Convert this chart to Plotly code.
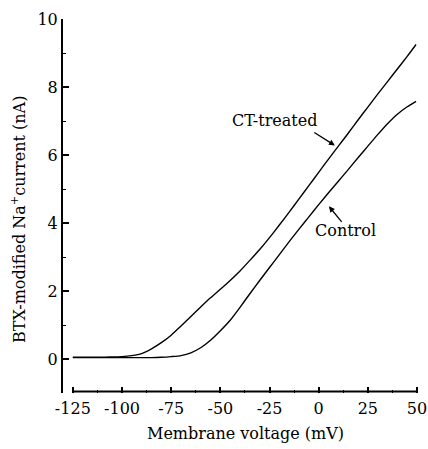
import plotly.graph_objects as go

# Membrane voltage (mV)
voltage_ct = [-125, -120, -115, -110, -105, -100, -95, -90, -85, -80, -75, -70, -65, -60,
              -55, -50, -45, -40, -35, -30, -25, -20, -15, -10, -5, 0, 5, 10, 15, 20,
              25, 30, 35, 40, 45, 49.5]
current_ct = [0.05, 0.05, 0.05, 0.05, 0.06, 0.07, 0.10, 0.16, 0.30, 0.48, 0.70, 0.97, 1.25, 1.53,
              1.80, 2.05, 2.31, 2.59, 2.90, 3.22, 3.57, 3.94, 4.32, 4.71, 5.10, 5.49, 5.88, 6.26,
              6.64, 7.03, 7.41, 7.79, 8.16, 8.53, 8.90, 9.25]

voltage_ctrl = [-125, -110, -100, -90, -85, -80, -75, -70, -65, -60, -55, -50, -45, -40, -35,
                -30, -25, -20, -15, -10, -5, 0, 5, 10, 15, 20, 25, 30, 35, 40, 45, 49.5]
current_ctrl = [0.04, 0.04, 0.04, 0.04, 0.04, 0.05, 0.07, 0.10, 0.18, 0.33, 0.55, 0.83, 1.14, 1.52,
                1.92, 2.31, 2.69, 3.07, 3.45, 3.82, 4.18, 4.54, 4.89, 5.23, 5.57, 5.92, 6.26,
                6.60, 6.92, 7.20, 7.42, 7.58]

x_ticks = [-125, -100, -75, -50, -25, 0, 25, 50]
y_ticks = [0, 2, 4, 6, 8, 10]

FONT = "DejaVu Serif"
FS = 16
line_style = dict(color="black", width=1.4)

fig = go.Figure()
fig.add_trace(go.Scatter(x=voltage_ct, y=current_ct, mode="lines", line=line_style,
                         line_shape="spline", line_smoothing=0.6,
                         name="CT-treated", hoverinfo="skip"))
fig.add_trace(go.Scatter(x=voltage_ctrl, y=current_ctrl, mode="lines", line=line_style,
                         line_shape="spline", line_smoothing=0.6,
                         name="Control", hoverinfo="skip"))

# detached x-axis line spanning first to last tick
fig.add_shape(type="line", xref="x", yref="paper", x0=x_ticks[0], x1=x_ticks[-1],
              y0=0.004, y1=0.004, line=dict(color="black", width=2))

# labels with arrows
fig.add_annotation(x=-22.3, y=7.01, text="CT-treated", showarrow=False,
                   font=dict(family=FONT, size=FS, color="black"))
fig.add_annotation(x=8.2, y=6.28, text="", showarrow=True, ax=-22, ay=-14,
                   arrowhead=2, arrowsize=0.9, arrowwidth=1.3, arrowcolor="black")
fig.add_annotation(x=13.5, y=3.78, text="Control", showarrow=False,
                   font=dict(family=FONT, size=FS, color="black"))
fig.add_annotation(x=5.2, y=4.49, text="", showarrow=True, ax=14, ay=17,
                   arrowhead=2, arrowsize=0.9, arrowwidth=1.3, arrowcolor="black")

# axis titles
fig.add_annotation(xref="paper", yref="paper", x=-0.1235, y=0.4626,
                   text="BTX-modified Na<sup>+</sup>current (nA)", textangle=-90,
                   showarrow=False, xanchor="center", yanchor="middle",
                   font=dict(family=FONT, size=FS, color="black"))
fig.add_annotation(xref="paper", yref="paper", x=0.5135, y=-0.107,
                   text="Membrane voltage (mV)", showarrow=False,
                   xanchor="center", yanchor="middle",
                   font=dict(family=FONT, size=FS, color="black"))

fig.update_xaxes(range=[-130, 51], tickvals=x_ticks, ticktext=[str(v) for v in x_ticks],
                 ticks="inside", ticklen=6, tickwidth=1.5, tickcolor="black",
                 ticklabelstandoff=4,
                 minor=dict(ticks="inside", ticklen=3, tickwidth=1.2, tickcolor="black",
                            tickvals=[v + 12.5 for v in x_ticks[:-1]]),
                 showline=False, showgrid=False, zeroline=False, automargin=False,
                 tickfont=dict(family=FONT, size=FS, color="black"))
fig.update_yaxes(range=[-1, 10], tickvals=y_ticks,
                 ticks="inside", ticklen=6, tickwidth=1.5, tickcolor="black",
                 minor=dict(ticks="inside", ticklen=3, tickwidth=1.2, tickcolor="black",
                            tickvals=[v + 1 for v in y_ticks[:-1]] + [-1]),
                 showline=True, linecolor="black", linewidth=2,
                 showgrid=False, zeroline=False, automargin=False,
                 tickfont=dict(family=FONT, size=FS, color="black"))

fig.update_layout(width=428, height=449, margin=dict(l=63, r=9, t=19, b=56),
                  font=dict(family=FONT, size=FS, color="black"),
                  paper_bgcolor="white", plot_bgcolor="white", showlegend=False)

fig.write_html("out.html")
